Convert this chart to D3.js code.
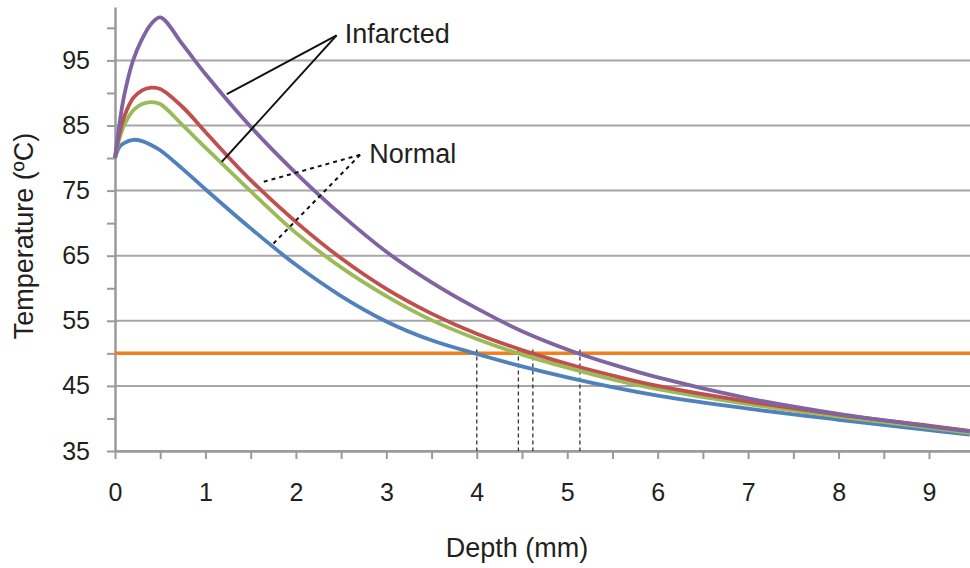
<!DOCTYPE html>
<html>
<head>
<meta charset="utf-8">
<script src="https://cdn.jsdelivr.net/npm/d3@7"></script>
<style>
  body { margin: 0; background: #fff; }
  text { font-family: "Liberation Sans", Arial, sans-serif; fill: #231f20; }
</style>
</head>
<body>
<div id="chart"></div>
<script>
// Depth samples (mm) and temperatures (ºC)
const depth     = [0, 0.05, 0.1, 0.2, 0.3, 0.4, 0.5, 0.75, 1, 1.5, 2, 2.5, 3, 3.5, 4, 4.5, 5, 5.5, 6, 7, 8, 9, 9.45];
const purple    = [80, 85.3, 89.5, 95.0, 98.3, 100.6, 101.6, 97.4, 92.9, 84.8, 77.7, 71.3, 65.6, 60.9, 56.9, 53.4, 50.6, 48.3, 46.3, 43.1, 40.7, 38.8, 38.0];
const red       = [80, 83.8, 86.3, 89.2, 90.4, 90.8, 90.6, 87.8, 84.0, 76.6, 70.2, 64.6, 59.9, 56.1, 53.0, 50.5, 48.4, 46.6, 45.0, 42.6, 40.6, 38.9, 38.1];
const green     = [80, 83.0, 85.0, 87.3, 88.3, 88.6, 88.3, 85.0, 81.6, 74.9, 68.5, 63.2, 58.8, 55.1, 52.2, 49.8, 47.8, 46.0, 44.5, 42.2, 40.3, 38.6, 37.8];
const blue      = [80, 81.7, 82.3, 82.8, 82.6, 82.0, 81.2, 78.3, 75.2, 69.2, 63.6, 58.8, 54.9, 52.0, 49.9, 48.0, 46.3, 44.8, 43.5, 41.5, 39.8, 38.2, 37.5];
const threshold = 50;
const crossings = [4.0, 4.46, 4.62, 5.14];
const yLabels   = [35, 45, 55, 65, 75, 85, 95];

const series = [
  {name: "blue",   color: "#4f81bd", values: blue},
  {name: "green",  color: "#9bbb59", values: green},
  {name: "red",    color: "#c0504d", values: red},
  {name: "purple", color: "#8064a2", values: purple}
];

const width = 970, height = 568;
const margin = {top: 7, right: 0, bottom: 117, left: 115};

const svg = d3.select("#chart")
  .append("svg")
  .attr("width", width)
  .attr("height", height);

const x = d3.scaleLinear()
  .domain([0, 9.453])
  .range([margin.left, width - margin.right]);

const y = d3.scaleLinear()
  .domain([35, 103.2])
  .range([height - margin.bottom, margin.top]);

// Gridlines
svg.append("g")
  .selectAll("line")
  .data(yLabels)
  .enter().append("line")
  .attr("x1", x(0))
  .attr("x2", x.range()[1])
  .attr("y1", d => y(d))
  .attr("y2", d => y(d))
  .attr("stroke", "#a6a6a6")
  .attr("stroke-width", 2);

// Axes
const xAxis = svg.append("g")
  .attr("transform", `translate(0,${y(35)})`)
  .call(d3.axisBottom(x)
    .tickValues(d3.range(0, 9.5, 0.5))
    .tickSize(8)
    .tickSizeOuter(0)
    .tickPadding(24)
    .tickFormat(d => Number.isInteger(d) ? d : ""));

const yAxis = svg.append("g")
  .attr("transform", `translate(${x(0)},0)`)
  .call(d3.axisLeft(y)
    .tickValues(d3.range(35, 101, 5))
    .tickSize(8)
    .tickSizeOuter(0)
    .tickPadding(17)
    .tickFormat(d => yLabels.includes(d) ? d : ""));

[xAxis, yAxis].forEach(g => {
  g.select(".domain").attr("stroke", "#9a9a9a").attr("stroke-width", 2.5);
  g.selectAll(".tick line").attr("stroke", "#9a9a9a").attr("stroke-width", 2);
  g.selectAll(".tick text")
    .attr("font-size", 25)
    .attr("font-family", "Liberation Sans, Arial, sans-serif")
    .attr("fill", "#231f20");
});

// Threshold line
svg.append("line")
  .attr("x1", x(0))
  .attr("x2", x.range()[1])
  .attr("y1", y(threshold))
  .attr("y2", y(threshold))
  .attr("stroke", "#f07f1c")
  .attr("stroke-width", 3.5);

// Dashed drop lines at threshold crossings
svg.append("g")
  .selectAll("line")
  .data(crossings)
  .enter().append("line")
  .attr("x1", d => x(d))
  .attr("x2", d => x(d))
  .attr("y1", y(threshold + 0.6))
  .attr("y2", y(35))
  .attr("stroke", "#333")
  .attr("stroke-width", 1.3)
  .attr("stroke-dasharray", "4,3");

// Curves
const line = d3.line()
  .x((d, i) => x(depth[i]))
  .y(d => y(d))
  .curve(d3.curveCatmullRom.alpha(0.5));

svg.append("g")
  .selectAll("path")
  .data(series)
  .enter().append("path")
  .attr("d", d => line(d.values))
  .attr("fill", "none")
  .attr("stroke", d => d.color)
  .attr("stroke-width", 3.8)
  .attr("stroke-linejoin", "round");

// Annotations (depth, temperature)
const infarctedApex = [2.45, 98.85];
const infarctedEnds = [[1.236, 89.8], [1.18, 79.4]];
const normalApex = [2.71, 80.5];
const normalEnds = [[1.604, 76.2], [1.733, 66.6]];

infarctedEnds.forEach(e => {
  svg.append("line")
    .attr("x1", x(infarctedApex[0])).attr("y1", y(infarctedApex[1]))
    .attr("x2", x(e[0])).attr("y2", y(e[1]))
    .attr("stroke", "#111").attr("stroke-width", 2);
});
normalEnds.forEach(e => {
  svg.append("line")
    .attr("x1", x(normalApex[0])).attr("y1", y(normalApex[1]))
    .attr("x2", x(e[0])).attr("y2", y(e[1]))
    .attr("stroke", "#111").attr("stroke-width", 2)
    .attr("stroke-dasharray", "4,4");
});

svg.append("text")
  .attr("x", x(2.54))
  .attr("y", y(97.6))
  .attr("font-size", 27)
  .text("Infarcted");

svg.append("text")
  .attr("x", x(2.81))
  .attr("y", y(79.2))
  .attr("font-size", 27)
  .text("Normal");

// Axis titles
svg.append("text")
  .attr("x", 517)
  .attr("y", 557)
  .attr("text-anchor", "middle")
  .attr("font-size", 27)
  .text("Depth (mm)");

svg.append("text")
  .attr("transform", "translate(33,236) rotate(-90)")
  .attr("text-anchor", "middle")
  .attr("font-size", 27)
  .text("Temperature (ºC)");
</script>
</body>
</html>
